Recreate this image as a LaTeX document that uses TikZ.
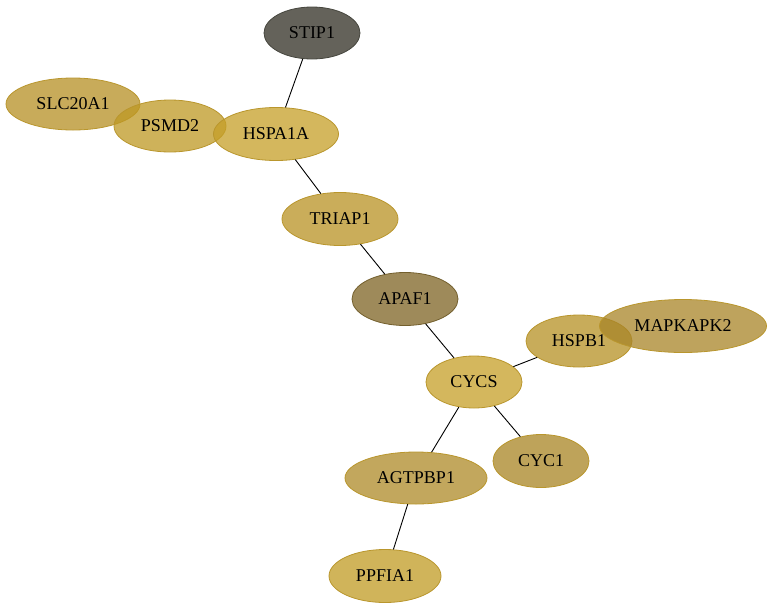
\documentclass[tikz,border=0pt]{standalone}
\usepackage{fontspec}
\setmainfont{Liberation Serif}
\usetikzlibrary{shapes.geometric}
\definecolor{cSTIP}{RGB}{100,98,90}
\definecolor{cSLC}{RGB}{182,143,35}
\definecolor{cPSMD}{RGB}{190,152,35}
\definecolor{cHSPA}{RGB}{197,159,39}
\definecolor{cTRIAP}{RGB}{184,146,35}
\definecolor{cAPAF}{RGB}{126,99,35}
\definecolor{cHSPB}{RGB}{182,144,35}
\definecolor{cMAPK}{RGB}{168,132,39}
\definecolor{cCYCS}{RGB}{198,159,39}
\definecolor{cCYC}{RGB}{168,132,35}
\definecolor{cAGT}{RGB}{174,138,39}
\definecolor{cPPF}{RGB}{192,155,35}
\definecolor{gstroke}{RGB}{185,150,45}
\definecolor{sstroke}{RGB}{70,70,62}
\definecolor{astroke}{RGB}{115,95,45}
\tikzset{
  gene/.style={ellipse, inner sep=0pt, draw=gstroke, line width=0.8pt, fill opacity=0.75, text opacity=1, font=\fontsize{18}{20}\selectfont},
  link/.style={line width=0.9pt, black}
}
\begin{document}
\begin{tikzpicture}[x=1pt,y=-1pt]
\useasboundingbox (0,0) rectangle (773,611);
\node[gene, fill=cSTIP, fill opacity=1, draw=sstroke, minimum width=96, minimum height=52] (STIP1) at (312,33) {STIP1};
\node[gene, fill=cSLC, minimum width=134, minimum height=52] (SLC20A1) at (73,104) {SLC20A1};
\node[gene, fill=cPSMD, minimum width=112, minimum height=52] (PSMD2) at (170,126) {PSMD2};
\node[gene, fill=cHSPA, minimum width=125, minimum height=53] (HSPA1A) at (276,134) {HSPA1A};
\node[gene, fill=cTRIAP, minimum width=116, minimum height=53] (TRIAP1) at (340,219) {TRIAP1};
\node[gene, fill=cAPAF, draw=astroke, minimum width=106, minimum height=53] (APAF1) at (405,299) {APAF1};
\node[gene, fill=cHSPB, minimum width=106, minimum height=52] (HSPB1) at (579,341) {HSPB1};
\node[gene, fill=cMAPK, minimum width=167, minimum height=53] (MAPKAPK2) at (683,326) {MAPKAPK2};
\node[gene, fill=cCYCS, minimum width=96, minimum height=52] (CYCS) at (474,382) {CYCS};
\node[gene, fill=cCYC, minimum width=96, minimum height=53] (CYC1) at (541,461) {CYC1};
\node[gene, fill=cAGT, minimum width=142, minimum height=52] (AGTPBP1) at (416,478) {AGTPBP1};
\node[gene, fill=cPPF, minimum width=112, minimum height=53] (PPFIA1) at (385,576) {PPFIA1};
\draw[link] (STIP1) -- (HSPA1A);
\draw[link] (HSPA1A) -- (TRIAP1);
\draw[link] (TRIAP1) -- (APAF1);
\draw[link] (APAF1) -- (CYCS);
\draw[link] (CYCS) -- (HSPB1);
\draw[link] (CYCS) -- (CYC1);
\draw[link] (CYCS) -- (AGTPBP1);
\draw[link] (AGTPBP1) -- (PPFIA1);
\end{tikzpicture}
\end{document}
